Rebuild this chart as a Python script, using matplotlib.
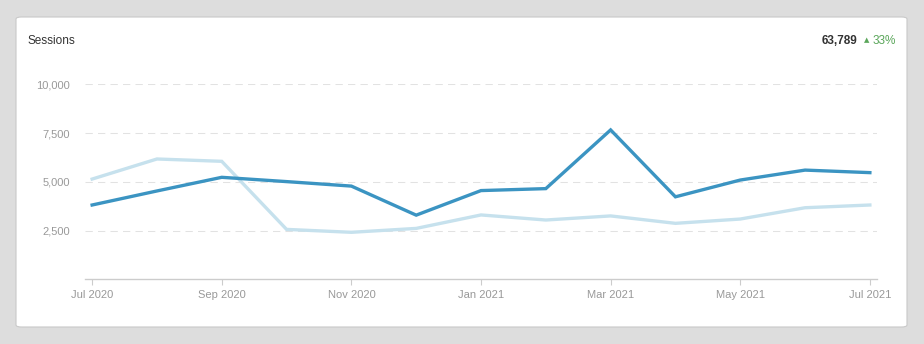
import matplotlib.pyplot as plt
from matplotlib.patches import FancyBboxPatch

plt.rcParams['font.family'] = ['Liberation Sans', 'DejaVu Sans']

# monthly sessions, Jul 2020 - Jul 2021
months = ['Jul 2020', 'Aug 2020', 'Sep 2020', 'Oct 2020', 'Nov 2020', 'Dec 2020',
          'Jan 2021', 'Feb 2021', 'Mar 2021', 'Apr 2021', 'May 2021', 'Jun 2021', 'Jul 2021']
current = [3810, 4530, 5230, 5010, 4780, 3290, 4550, 4650, 7660, 4230, 5090, 5600, 5470]
previous = [5140, 6170, 6050, 2560, 2410, 2610, 3300, 3040, 3250, 2870, 3090, 3670, 3810]
yticks = [2500, 5000, 7500, 10000]
total_sessions = '63,789'
change = '33%'

W, H = 924, 344
fig = plt.figure(figsize=(W / 100, H / 100), dpi=100)
fig.patch.set_facecolor('#dddddd')

# white card behind the chart
card = FancyBboxPatch((16 / W, 1 - 327 / H), (907 - 16) / W, (327 - 17) / H,
                      boxstyle='round,pad=0,rounding_size=0.006',
                      transform=fig.transFigure, facecolor='white',
                      edgecolor='#c9c9c9', linewidth=0.8, zorder=-10)
fig.add_artist(card)

ax = fig.add_axes([85 / W, 1 - 279.3 / H, (877 - 85) / W, (279.3 - 84.3) / H])
ax.set_facecolor('none')

x = list(range(len(months)))
ax.plot(x, previous, color='#c6e1ed', lw=2.4, solid_joinstyle='miter', zorder=3)
ax.plot(x, current, color='#3b94c2', lw=2.4, solid_joinstyle='miter', zorder=4)

ax.set_xlim(-0.11, len(months) - 1 + 0.11)
ax.set_ylim(0, 10000)

ax.set_yticks(yticks)
ax.set_yticklabels([f'{v:,}' for v in yticks])
ax.set_xticks(x[::2])
ax.set_xticklabels(months[::2])

for v in yticks:
    ax.axhline(v, color='#e2e2e2', lw=0.75, linestyle=(0, (7, 5)), zorder=1)

for s in ['top', 'right', 'left']:
    ax.spines[s].set_visible(False)
ax.spines['bottom'].set_color('#cccccc')
ax.spines['bottom'].set_linewidth(1)

ax.tick_params(axis='y', length=0, pad=11, labelsize=8, labelcolor='#999999')
ax.tick_params(axis='x', length=4, width=0.8, color='#cccccc', pad=4,
               labelsize=8, labelcolor='#999999')

# header row
fig.text(28 / W, 1 - 41 / H, 'Sessions', fontsize=8.5, color='#333333', va='center')
fig.text(857 / W, 1 - 41 / H, total_sessions, fontsize=8.5, fontweight='bold',
         color='#333333', va='center', ha='right')
fig.text(864 / W, 1 - 40.5 / H, '▲', fontsize=5, color='#5aa65a', va='center', ha='left',
         family='DejaVu Sans')
fig.text(873 / W, 1 - 41 / H, change, fontsize=8.5, color='#5aa65a', va='center', ha='left')

fig.savefig('out.png', dpi=100, facecolor=fig.get_facecolor())
